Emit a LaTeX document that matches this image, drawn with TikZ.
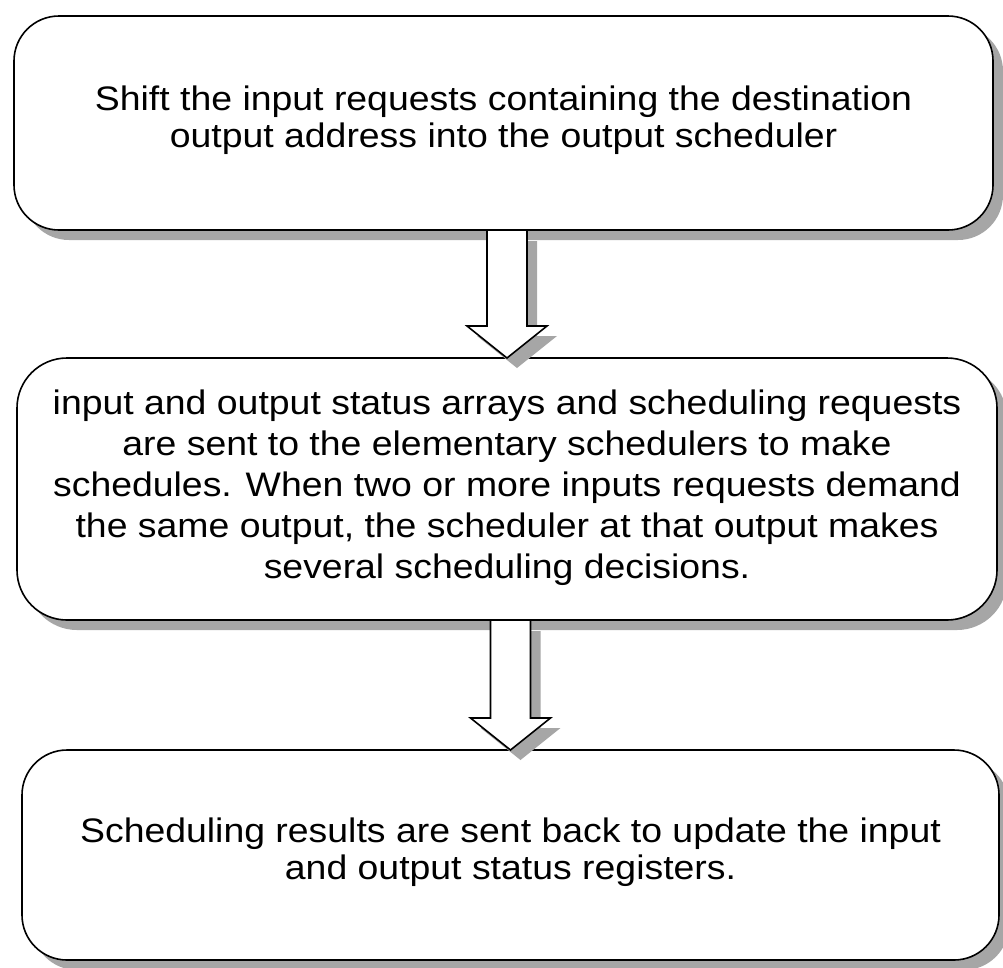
\documentclass[tikz,border=0pt]{standalone}
\usepackage{fontspec}
\setmainfont{Liberation Sans}
\usetikzlibrary{calc,shadows}

% Hollow block arrow from a point #1 (under the upper box) to the tip #2;
% #3 is the vertical offset of the open end.
\newcommand\blockarrowpath[3]{($(#1)+(-20,#3)$) -- ($(#2)+(-20,-32)$) -- ($(#2)+(-40,-32)$) -- (#2)
  -- ($(#2)+(40,-32)$) -- ($(#2)+(20,-32)$) -- ($(#1)+(20,#3)$)}

\newcommand\flowarrow[2]{%
  \coordinate (#1-top) at (#1.south -| #2.north);
  \coordinate (#1-tip) at (#2.north);
  \coordinate (#1-topsh) at ($(#1-top)+(10,10)$);
  \coordinate (#1-tipsh) at ($(#1-tip)+(10,10)$);
  \fill[shadowfill] \blockarrowpath{#1-topsh}{#1-tipsh}{1} -- cycle;
  \fill[white] \blockarrowpath{#1-top}{#1-tip}{1.2} -- cycle;
  \draw[arrowline] \blockarrowpath{#1-top}{#1-tip}{0};
}

\begin{document}
\begin{tikzpicture}[x=1pt,y=-1pt,
  shadowfill/.style={fill=black!35},
  stepbox/.style={draw=black, line width=1.6pt, fill=white, rounded corners=45pt,
    inner sep=0pt, outer sep=0pt,
    drop shadow={shadow xshift=10pt, shadow yshift=-10pt, fill=black!35, opacity=1}},
  arrowline/.style={draw=black, line width=1.6pt, line join=miter},
  boxtext/.style={anchor=base, inner sep=0pt, font=\fontsize{34}{37}\selectfont}]

\useasboundingbox (0,0) rectangle (1003,967);

% process boxes
\node[stepbox, minimum width=979pt, minimum height=214pt] (b1) at (503.5,123) {};
\node[stepbox, minimum width=980pt, minimum height=262pt, rounded corners=50pt] (b2) at (507,489) {};
\node[stepbox, minimum width=977pt, minimum height=210pt] (b3) at (510.5,855) {};

% box texts
\node[boxtext] (t1) at (503.5,110) {\scalebox{1.1}[1]{\begin{tabular}[t]{@{}c@{}}
  Shift the input requests containing the destination\\
  output address into the output scheduler\end{tabular}}};
\node[boxtext, font=\fontsize{34}{41}\selectfont] (t2) at (507,414) {\scalebox{1.1}[1]{\begin{tabular}[t]{@{}c@{}}
  input and output status arrays and scheduling requests\\
  are sent to the elementary schedulers to make\\
  schedules. When two or more inputs requests demand\\
  the same output, the scheduler at that output makes\\
  several scheduling decisions.\end{tabular}}};
\node[boxtext] (t3) at (510.5,842) {\scalebox{1.1}[1]{\begin{tabular}[t]{@{}c@{}}
  Scheduling results are sent back to update the input\\
  and output status registers.\end{tabular}}};

% block arrows between the boxes
\flowarrow{b1}{b2}
\flowarrow{b2}{b3}
\end{tikzpicture}
\end{document}
